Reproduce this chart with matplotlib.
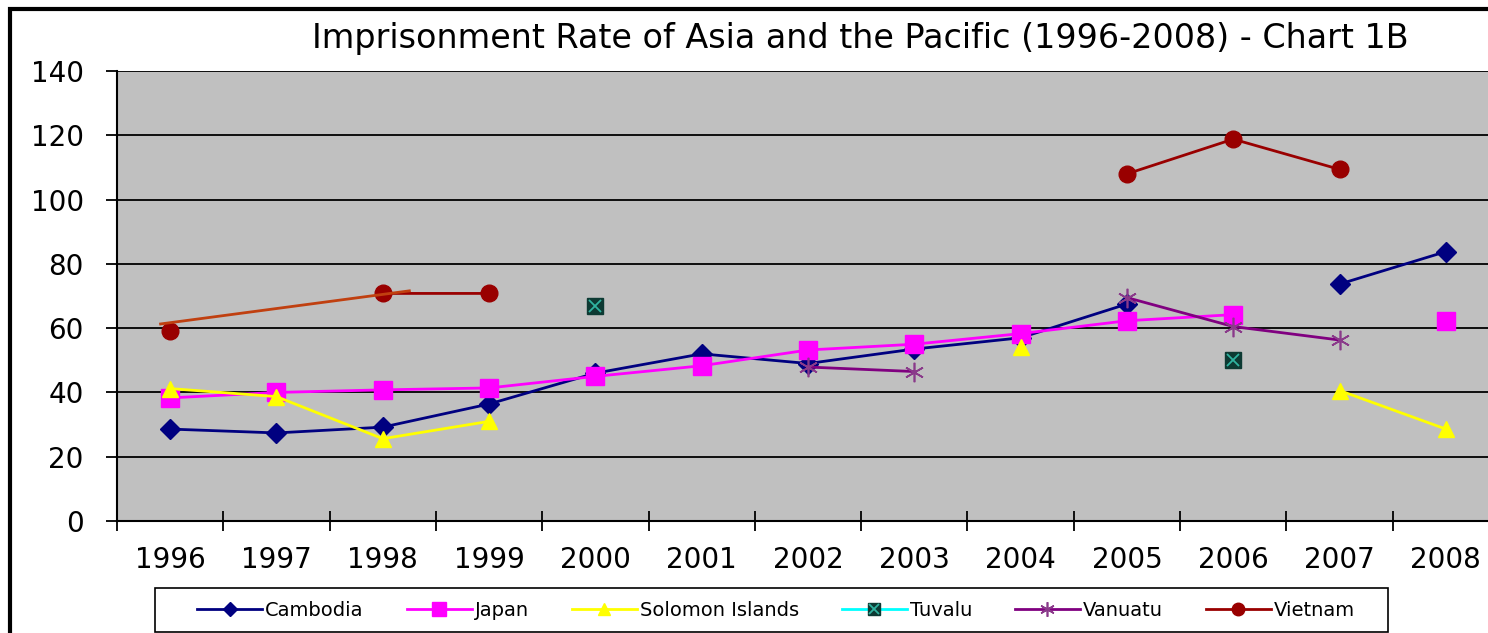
import numpy as np
import matplotlib
matplotlib.use("Agg")
import matplotlib.pyplot as plt
from matplotlib.legend_handler import HandlerTuple
from matplotlib.patches import Rectangle

plt.rcParams['font.family'] = ['DejaVu Sans']

nan = np.nan
years = ['1996', '1997', '1998', '1999', '2000', '2001', '2002',
         '2003', '2004', '2005', '2006', '2007', '2008']

cambodia = [28.6, 27.4, 29.2, 36.4, 46.0, 52.0, 49.0, 53.5, 57.0, 67.5, nan, 73.7, 83.8]
japan = [38.3, 40.0, 40.8, 41.4, 45.0, 48.3, 53.2, 55.0, 58.3, 62.3, 64.2, nan, 62.2]
solomon = [41.2, 38.7, 25.6, 31.0, nan, nan, nan, nan, 54.0, nan, nan, 40.6, 28.6]
tuvalu = [nan, nan, nan, nan, 67.0, nan, nan, nan, nan, nan, 50.0, nan, nan]
vanuatu = [nan, nan, nan, nan, nan, nan, 47.9, 46.5, nan, 69.5, 60.5, 56.3, nan]
vietnam = [59.2, nan, 70.8, 70.8, nan, nan, nan, nan, nan, 108.0, 118.8, 109.4, nan]

# stray trend line drawn over the Vietnam series (category units)
trend_x = [-0.09, 2.25]
trend_y = [61.3, 71.6]

fig = plt.figure(figsize=(14.88, 6.33), dpi=100)
ax = fig.add_axes([117/1488, 1-521/633, (1499-117)/1488, (521-71)/633])
ax.set_facecolor('#c0c0c0')

x = np.arange(len(years))
h_cam, = ax.plot(x, cambodia, color='#000080', lw=2, marker='D', ms=10, label='Cambodia')
h_jap, = ax.plot(x, japan, color='#ff00ff', lw=2, marker='s', ms=12.5, label='Japan')
h_sol, = ax.plot(x, solomon, color='#ffff00', lw=2, marker='^', ms=12, label='Solomon Islands')
h_tuv, = ax.plot(x, tuvalu, color='#00ffff', lw=2, marker='s', ms=12, mfc='#0d3a33',
                 mec='#0d3a33', label='Tuvalu')
h_tuvx, = ax.plot(x, tuvalu, color='#00ffff', lw=0, marker='x', ms=9, mec='#2fb3a0', mew=1.3)
h_van, = ax.plot(x, vanuatu, color='#800080', lw=2, marker=(6, 2, 0), ms=14,
                 mec='#8a3a8a', mew=1.2, label='Vanuatu')
h_vie, = ax.plot(x, vietnam, color='#990000', lw=2, marker='o', ms=12, label='Vietnam')
ax.plot(trend_x, trend_y, color='#c04010', lw=2)

ax.set_xlim(-0.5, len(years) - 0.5)
ax.set_ylim(0, 140)
ax.set_yticks(np.arange(0, 141, 20))
ax.yaxis.grid(True, color='black', lw=1.3)
ax.set_axisbelow(True)
ax.tick_params(axis='y', direction='out', length=8, width=1.3, pad=16, labelsize=20)

ax.set_xticks(np.arange(-0.5, len(years), 1.0))
ax.set_xticklabels([])
ax.set_xticks(x, minor=True)
ax.set_xticklabels(years, minor=True)
ax.tick_params(axis='x', which='major', direction='inout', length=14, width=1.3)
ax.tick_params(axis='x', which='minor', length=0, pad=18, labelsize=20)

for s in ['top', 'right']:
    ax.spines[s].set_visible(False)
ax.spines['left'].set_linewidth(1.5)
ax.spines['bottom'].set_linewidth(1.5)

fig.text(860/1488, 1-48/633, 'Imprisonment Rate of Asia and the Pacific (1996-2008) - Chart 1B',
         ha='center', va='baseline', fontsize=24)

leg = fig.legend([h_cam, h_jap, h_sol, (h_tuv, h_tuvx), h_van, h_vie],
                 ['Cambodia', 'Japan', 'Solomon Islands', 'Tuvalu', 'Vanuatu', 'Vietnam'],
                 handler_map={tuple: HandlerTuple(ndivide=1)},
                 loc='center', bbox_to_anchor=(776/1488, 1-610/633), ncol=6,
                 fontsize=14, frameon=False, borderaxespad=0, borderpad=0,
                 handlelength=3.35, columnspacing=2.2, handletextpad=0.15,
                 markerscale=0.75)

# legend box (bottom edge sits on the image edge)
fig.patches.append(Rectangle((155/1488, 1-632/633), (1388-155)/1488, 44/633,
                             transform=fig.transFigure, fill=False,
                             edgecolor='black', lw=1.2))
# outer chart border
fig.patches.append(Rectangle((10/1488, -0.1), 1.2, 1.1 - 9/633, transform=fig.transFigure,
                             fill=False, edgecolor='black', lw=3))

fig.savefig('out.png', dpi=100)
